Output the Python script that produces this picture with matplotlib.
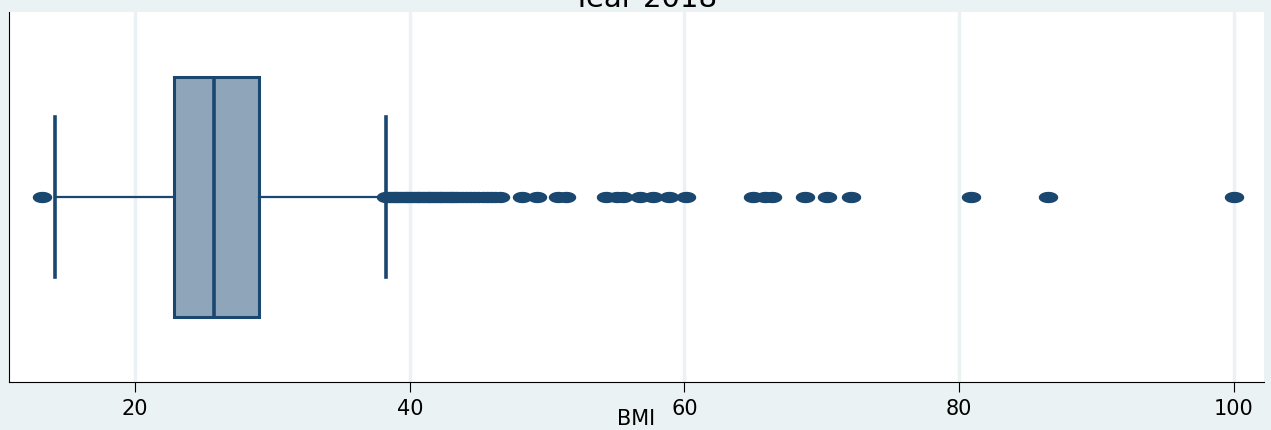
import matplotlib
matplotlib.use("Agg")
import matplotlib.pyplot as plt
import numpy as np
from matplotlib.path import Path

# box summary (BMI)
q1 = 22.85
median = 25.75
q3 = 29.0
whisker_low = 14.2
whisker_high = 38.25

# outliers
low_outliers = [13.2]
dense_outliers = [38.3, 38.5, 38.7, 38.9, 39.1, 39.3, 39.5, 39.7, 39.9, 40.1,
                  40.3, 40.5, 40.7, 40.9, 41.1, 41.3, 41.5, 41.7, 41.9, 42.1,
                  42.3, 42.5, 42.7, 42.9, 43.1, 43.3, 43.5, 43.8, 44.1, 44.4,
                  44.7, 45.0, 45.3, 45.6, 45.9, 46.2, 46.6]
sparse_outliers = [48.2, 49.3, 50.8, 51.4, 54.3, 55.1, 55.5, 56.8, 57.7, 58.9,
                   60.1, 65.0, 65.9, 66.4, 68.8, 70.4, 72.1, 80.9, 86.5, 100.0]

ticks = [20, 40, 60, 80, 100]
title = "Year 2018"
xlabel = "BMI"

navy = "#1a476f"
box_fill = "#8ea5ba"
bg = "#eaf2f3"

# flattened ellipse marker (Stata draws the dots stretched)
t = np.linspace(0, 2 * np.pi, 40)
ellipse = Path(np.column_stack([np.cos(t), 0.55 * np.sin(t)]), closed=True)

fig = plt.figure(figsize=(12.71, 4.30), dpi=100, facecolor=bg)
ax = fig.add_axes([9 / 1271, 48 / 430, 1255 / 1271, 370 / 430])
ax.set_facecolor("white")

stats = [{
    "q1": q1, "med": median, "q3": q3,
    "whislo": whisker_low, "whishi": whisker_high,
    "fliers": low_outliers + dense_outliers + sparse_outliers,
}]
ax.bxp(stats, positions=[0.5], widths=0.65, vert=False, patch_artist=True,
       capwidths=[0.434],
       boxprops=dict(facecolor=box_fill, edgecolor=navy, linewidth=2.2),
       medianprops=dict(color=navy, linewidth=2.6),
       whiskerprops=dict(color=navy, linewidth=1.6),
       capprops=dict(color=navy, linewidth=2.6),
       flierprops=dict(marker=ellipse, markersize=13, markerfacecolor=navy,
                       markeredgecolor=navy, linestyle="none"))

ax.set_ylim(0, 1)
ax.set_xlim(10.82, 102.2)
ax.set_xticks(ticks)
ax.set_xticklabels([str(v) for v in ticks], fontsize=15, family="DejaVu Sans")
ax.set_yticks([])
ax.xaxis.grid(True, color=bg, linewidth=2.5)
ax.set_axisbelow(True)
ax.tick_params(axis="x", length=7, width=0.8, pad=5, colors="black")
for s in ["top", "right"]:
    ax.spines[s].set_visible(False)
ax.spines["left"].set_linewidth(0.8)
ax.spines["bottom"].set_linewidth(0.8)

ax.set_xlabel(xlabel, fontsize=15, family="DejaVu Sans", va="baseline")
ax.xaxis.set_label_coords(0.5, (5 - 48) / 370)
# title sits partly above the top edge, as in the reference
fig.text(645 / 1271, 1 - 7 / 430, title, ha="center", va="baseline", fontsize=21,
         family="DejaVu Sans")

fig.savefig("out.png", dpi=100, facecolor=bg)
